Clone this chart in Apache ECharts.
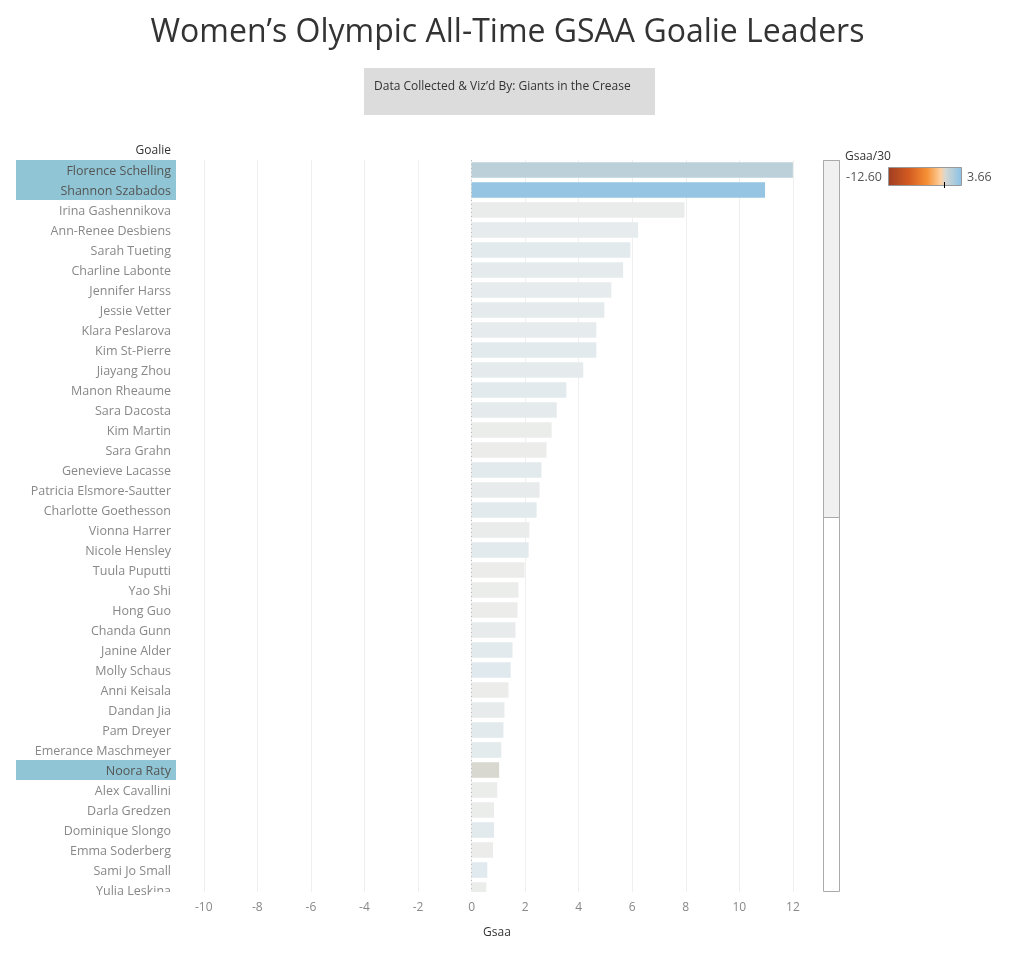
<!DOCTYPE html>
<html>
<head>
<meta charset="utf-8">
<script src="https://cdn.jsdelivr.net/npm/echarts@6.0.0/dist/echarts.min.js"></script>
<style>
  html, body { margin: 0; padding: 0; background: #fff; }
  #main { width: 1015px; height: 963px; }
</style>
</head>
<body>
<div id="main"></div>
<script>
// goalies in the order shown (top to bottom)
var goalies = [
  'Florence Schelling', 'Shannon Szabados', 'Irina Gashennikova', 'Ann-Renee Desbiens',
  'Sarah Tueting', 'Charline Labonte', 'Jennifer Harss', 'Jessie Vetter',
  'Klara Peslarova', 'Kim St-Pierre', 'Jiayang Zhou', 'Manon Rheaume',
  'Sara Dacosta', 'Kim Martin', 'Sara Grahn', 'Genevieve Lacasse',
  'Patricia Elsmore-Sautter', 'Charlotte Goethesson', 'Vionna Harrer', 'Nicole Hensley',
  'Tuula Puputti', 'Yao Shi', 'Hong Guo', 'Chanda Gunn',
  'Janine Alder', 'Molly Schaus', 'Anni Keisala', 'Dandan Jia',
  'Pam Dreyer', 'Emerance Maschmeyer', 'Noora Raty', 'Alex Cavallini',
  'Darla Gredzen', 'Dominique Slongo', 'Emma Soderberg', 'Sami Jo Small',
  'Yulia Leskina'
];

// goals saved above average
var gsaa = [
  12.0, 10.96, 7.95, 6.22,
  5.93, 5.66, 5.22, 4.96,
  4.66, 4.66, 4.17, 3.54,
  3.18, 2.99, 2.80, 2.61,
  2.54, 2.43, 2.16, 2.13,
  1.98, 1.75, 1.72, 1.64,
  1.53, 1.46, 1.38, 1.23,
  1.19, 1.11, 1.03, 0.96,
  0.84, 0.84, 0.80, 0.59,
  0.55
];

// gsaa per 30 shots (drives the colour)
var gsaaPer30 = [
  1.2, 3.0, 0.3, 0.7,
  1.0, 0.8, 0.7, 0.8,
  0.7, 1.0, 0.8, 1.0,
  0.8, 0.15, 0.1, 1.1,
  0.6, 1.1, 0.3, 1.1,
  0.05, 0.15, 0.05, 0.6,
  1.1, 1.3, 0.05, 0.6,
  1.1, 0.9, -0.05, 0.15,
  0.15, 1.1, 0.05, 1.2,
  0.15
];

var highlighted = ['Florence Schelling', 'Shannon Szabados', 'Noora Raty'];

var xTicks = [-10, -8, -6, -4, -2, 0, 2, 4, 6, 8, 10, 12];
var colorMin = -12.60;
var colorMax = 3.66;

// diverging orange-blue palette
var paletteStops = [
  [-12.6, '#9e3d22'],
  [-8, '#d45b21'],
  [-4, '#f69035'],
  [-1, '#fdd0a0'],
  [0, '#d6d7d2'],
  [3.66, '#87c1e6']
];

function hexToRgb (h) {
  return [parseInt(h.substr(1, 2), 16), parseInt(h.substr(3, 2), 16), parseInt(h.substr(5, 2), 16)]
}
function rgbToHex (c) {
  return '#' + c.map(function (v) {
    var s = Math.round(Math.max(0, Math.min(255, v))).toString(16)
    return s.length < 2 ? '0' + s : s
  }).join('')
}
function paletteColor (v) {
  if (v <= paletteStops[0][0]) return paletteStops[0][1]
  for (var i = 1; i < paletteStops.length; i++) {
    if (v <= paletteStops[i][0]) {
      var a = paletteStops[i - 1], b = paletteStops[i]
      var t = (v - a[0]) / (b[0] - a[0])
      var ca = hexToRgb(a[1]), cb = hexToRgb(b[1])
      return rgbToHex([0, 1, 2].map(function (k) { return ca[k] + (cb[k] - ca[k]) * t }))
    }
  }
  return paletteStops[paletteStops.length - 1][1]
}
// non-highlighted marks are washed out toward white
function fade (hex, alpha) {
  var c = hexToRgb(hex)
  return rgbToHex(c.map(function (v) { return 255 - alpha * (255 - v) }))
}

var chart = echarts.init(document.getElementById('main'))

var barData = gsaa.map(function (v, i) {
  var base = paletteColor(gsaaPer30[i])
  var isHl = highlighted.indexOf(goalies[i]) >= 0
  return { value: v, itemStyle: { color: isHl ? base : fade(base, 0.45) } }
})

var legendStops = paletteStops.map(function (s) {
  return { offset: (s[0] - colorMin) / (colorMax - colorMin), color: s[1] }
})

var font = 'Open Sans'

var option = {
  animation: false,
  backgroundColor: '#fff',
  textStyle: { fontFamily: font },
  title: {
    text: 'Women\u2019s Olympic All-Time GSAA Goalie Leaders',
    left: 'center',
    top: 12,
    textStyle: { fontFamily: font, fontSize: 32, fontWeight: 'normal', color: '#333' }
  },
  grid: {
    left: 177,
    top: 160,
    width: 640,
    height: 740
  },
  xAxis: {
    type: 'value',
    min: -11,
    max: 12.9,
    name: 'Gsaa',
    nameLocation: 'middle',
    nameGap: 27,
    nameTextStyle: { color: '#333', fontSize: 12, fontFamily: font },
    axisLine: { show: false },
    axisTick: { show: false, customValues: xTicks },
    axisLabel: { customValues: xTicks, color: '#888', fontSize: 12, margin: 2, fontFamily: font },
    splitLine: { show: true, lineStyle: { color: '#efefef', width: 1 } }
  },
  yAxis: {
    type: 'category',
    inverse: true,
    data: goalies,
    axisLine: { show: false },
    axisTick: { show: false },
    axisLabel: {
      margin: 1,
      interval: 0,
      formatter: function (name) {
        return highlighted.indexOf(name) >= 0 ? '{hl|' + name + '}' : '{n|' + name + '}'
      },
      rich: {
        hl: {
          backgroundColor: '#8fc5d4', color: '#555', fontSize: 12.5, fontFamily: font,
          width: 155, height: 18, lineHeight: 18, align: 'right', padding: [2, 5, 0, 0]
        },
        n: {
          color: '#888', fontSize: 12.5, fontFamily: font,
          width: 155, height: 18, lineHeight: 18, align: 'right', padding: [2, 5, 0, 0]
        }
      }
    }
  },
  series: [{
    type: 'bar',
    data: barData,
    barCategoryGap: '22%',
    markLine: {
      silent: true,
      symbol: 'none',
      label: { show: false },
      lineStyle: { color: '#bbb', type: [1, 3], width: 1 },
      data: [{ xAxis: 0 }]
    }
  }],
  graphic: [
    // clip the last row like the scrolled view
    { type: 'rect', z: 100, shape: { x: 150, y: 892, width: 670, height: 8 }, style: { fill: '#fff' } },
    // subtitle box
    { type: 'rect', shape: { x: 364, y: 68, width: 291, height: 47 }, style: { fill: '#dcdcdc' } },
    { type: 'text', x: 374, y: 87, style: { text: 'Data Collected & Viz\u2019d By: Giants in the Crease', fill: '#333', font: '12px "Open Sans"', verticalAlign: 'middle' } },
    // column header
    { type: 'text', x: 171, y: 151, style: { text: 'Goalie', fill: '#333', font: '12px "Open Sans"', align: 'right', verticalAlign: 'middle' } },
    // scrollbar
    { type: 'rect', shape: { x: 823.5, y: 160.5, width: 16, height: 731 }, style: { fill: '#fff', stroke: '#aaa', lineWidth: 1 } },
    { type: 'rect', shape: { x: 823.5, y: 160.5, width: 16, height: 357 }, style: { fill: '#f0f0f0', stroke: '#aaa', lineWidth: 1 } },
    // colour legend
    { type: 'text', x: 845, y: 157, style: { text: 'Gsaa/30', fill: '#333', font: '12px "Open Sans"', verticalAlign: 'middle' } },
    { type: 'text', x: 882, y: 177, style: { text: colorMin.toFixed(2), fill: '#555', font: '12.5px "Open Sans"', align: 'right', verticalAlign: 'middle' } },
    {
      type: 'rect',
      shape: { x: 888.5, y: 167.5, width: 73, height: 18 },
      style: {
        fill: { type: 'linear', x: 0, y: 0, x2: 1, y2: 0, colorStops: legendStops },
        stroke: '#999', lineWidth: 1
      }
    },
    { type: 'line', shape: { x1: 944.5, y1: 182, x2: 944.5, y2: 188 }, style: { stroke: '#000', lineWidth: 1 } },
    { type: 'text', x: 967, y: 177, style: { text: colorMax.toFixed(2), fill: '#555', font: '12.5px "Open Sans"', verticalAlign: 'middle' } }
  ]
}

chart.setOption(option)
</script>
</body>
</html>
